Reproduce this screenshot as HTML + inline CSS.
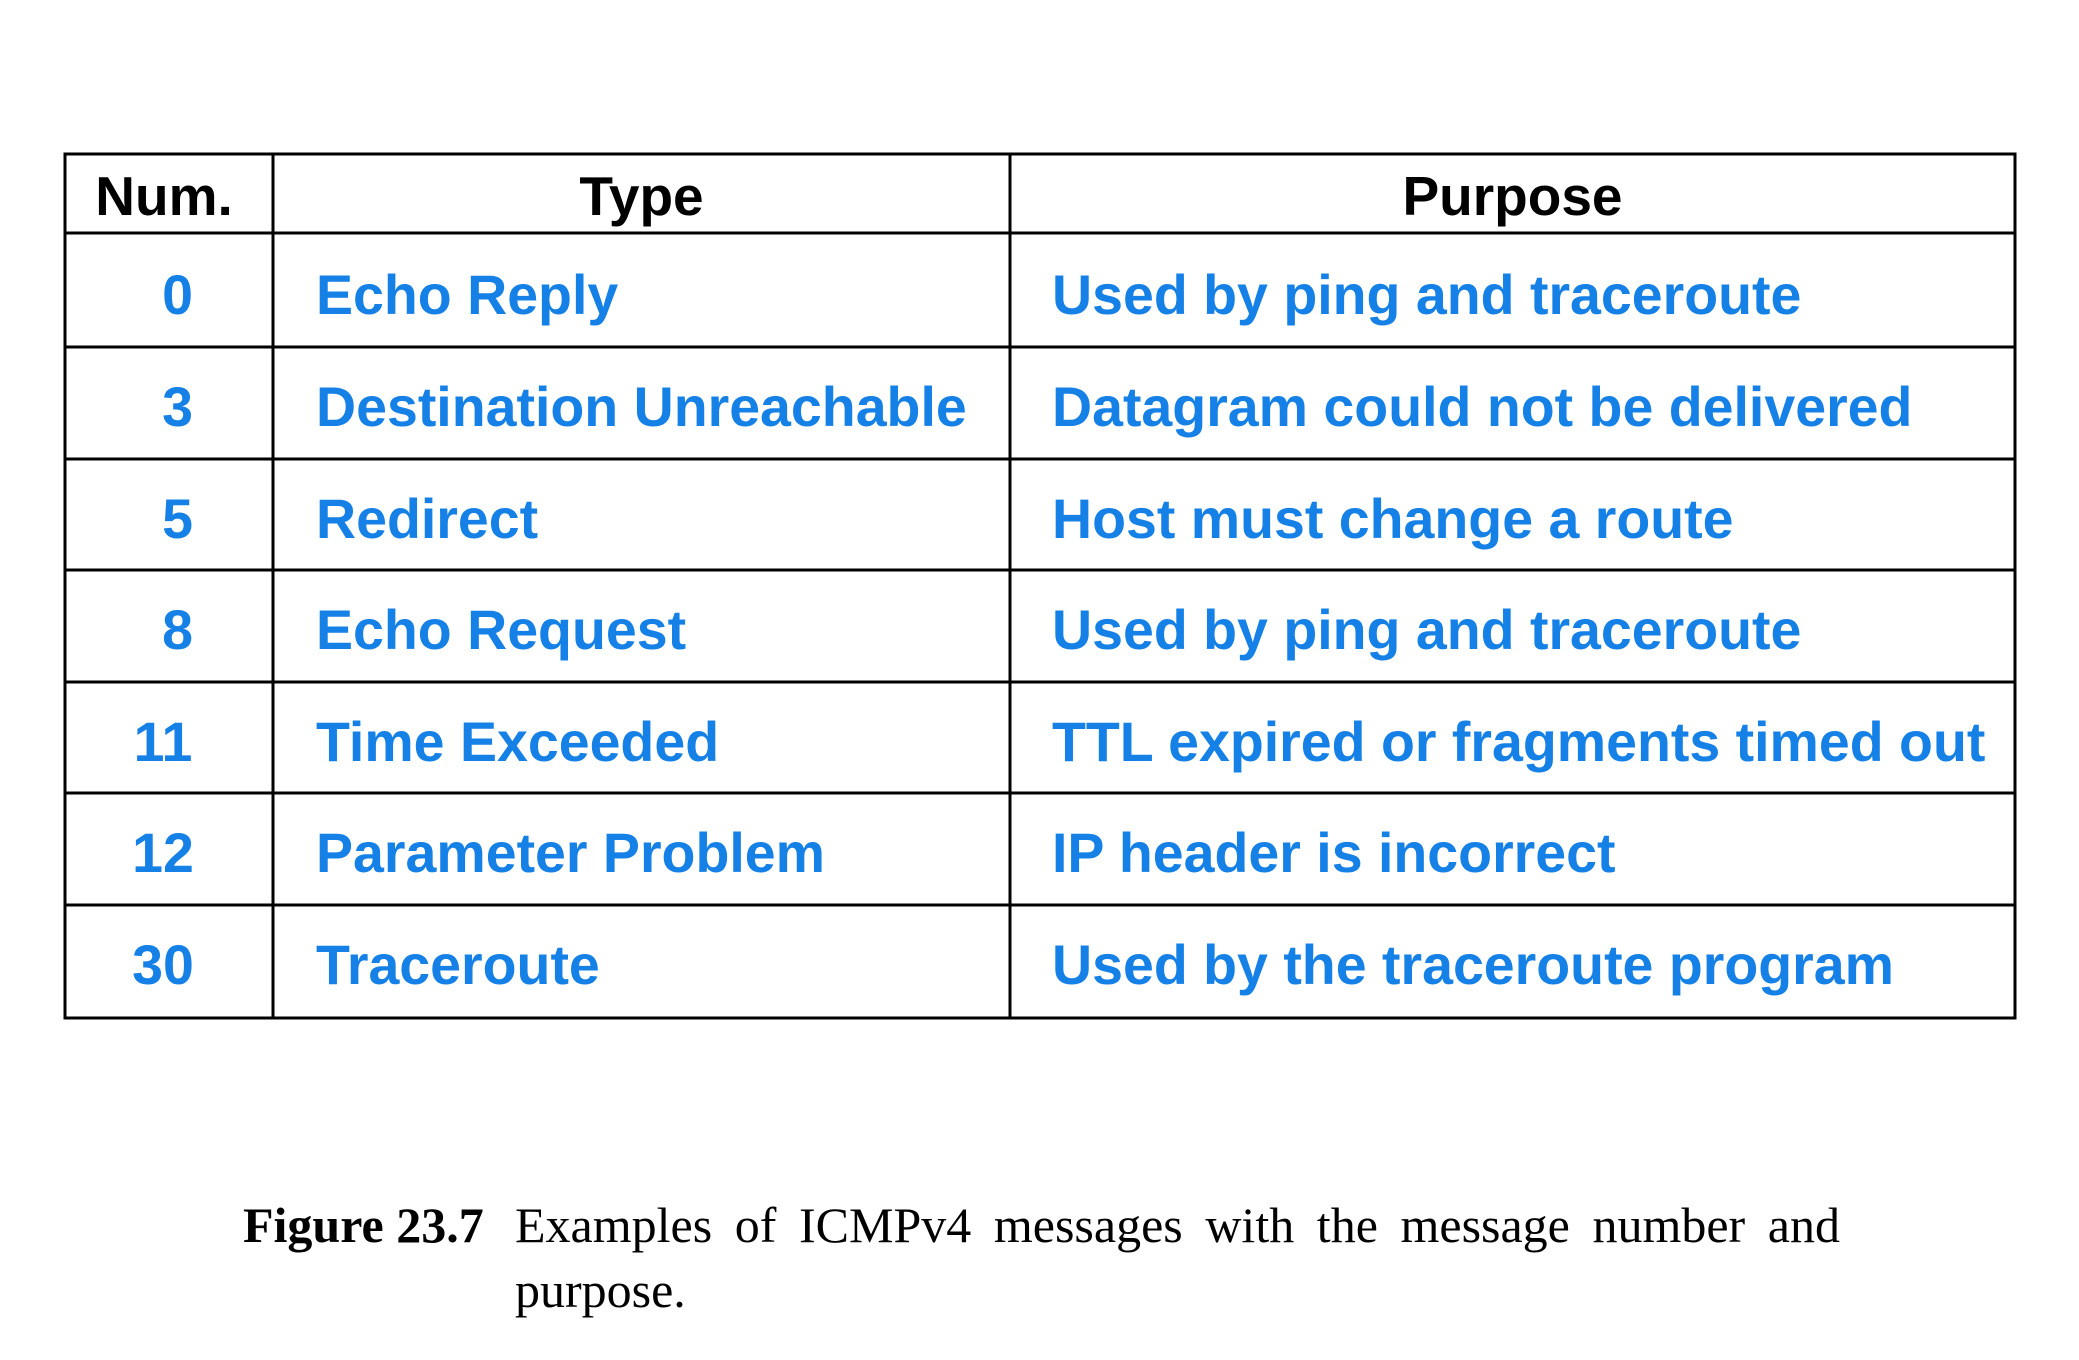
<!DOCTYPE html>
<html><head><meta charset="utf-8"><style>
html,body{margin:0;padding:0;background:#fff;}
body{width:2079px;height:1360px;position:relative;overflow:hidden;font-family:"Liberation Sans",Arial,sans-serif;}
.t{position:absolute;font-weight:bold;font-size:55.5px;line-height:1;white-space:nowrap;color:#1580e6;}
.h{color:#000;font-size:55px;}
.c{text-align:center;}
.cap{position:absolute;font-family:"Liberation Serif","Times New Roman",serif;font-size:50px;line-height:1;white-space:nowrap;}
</style></head><body>
<svg width="2079" height="1360" style="position:absolute;left:0;top:0">
<g stroke="#000" stroke-width="3" fill="none">
<rect x="65" y="154" width="1950" height="864"/>
<line x1="273" y1="154" x2="273" y2="1018"/>
<line x1="1010" y1="154" x2="1010" y2="1018"/>
<line x1="65" y1="233" x2="2015" y2="233"/>
<line x1="65" y1="347" x2="2015" y2="347"/>
<line x1="65" y1="459" x2="2015" y2="459"/>
<line x1="65" y1="570" x2="2015" y2="570"/>
<line x1="65" y1="682" x2="2015" y2="682"/>
<line x1="65" y1="793" x2="2015" y2="793"/>
<line x1="65" y1="905" x2="2015" y2="905"/>
</g></svg>
<div class="t h c" style="left:65px;width:198px;top:169px">Num.</div>
<div class="t h c" style="left:273px;width:737px;top:169px">Type</div>
<div class="t h c" style="left:1010px;width:1005px;top:169px">Purpose</div>

<div class="t c" style="left:65px;width:225px;top:268px">0</div>
<div class="t" style="left:316px;top:268px">Echo Reply</div>
<div class="t" style="left:1052px;top:268px">Used by ping and traceroute</div>

<div class="t c" style="left:65px;width:225px;top:380px">3</div>
<div class="t" style="left:316px;top:380px">Destination Unreachable</div>
<div class="t" style="left:1052px;top:380px">Datagram could not be delivered</div>

<div class="t c" style="left:65px;width:225px;top:492px">5</div>
<div class="t" style="left:316px;top:492px">Redirect</div>
<div class="t" style="left:1052px;top:492px">Host must change a route</div>

<div class="t c" style="left:65px;width:225px;top:603px">8</div>
<div class="t" style="left:316px;top:603px">Echo Request</div>
<div class="t" style="left:1052px;top:603px">Used by ping and traceroute</div>

<div class="t c" style="left:65px;width:196px;top:715px">11</div>
<div class="t" style="left:316px;top:715px">Time Exceeded</div>
<div class="t" style="left:1052px;top:715px">TTL expired or fragments timed out</div>

<div class="t c" style="left:65px;width:196px;top:826px">12</div>
<div class="t" style="left:316px;top:826px">Parameter Problem</div>
<div class="t" style="left:1052px;top:826px">IP header is incorrect</div>

<div class="t c" style="left:65px;width:196px;top:938px">30</div>
<div class="t" style="left:316px;top:938px">Traceroute</div>
<div class="t" style="left:1052px;top:938px">Used by the traceroute program</div>

<div class="cap" style="left:243px;top:1200px"><b>Figure 23.7</b></div>
<div class="cap" style="left:515px;top:1200px;width:1325px;white-space:normal;text-align:justify;text-align-last:justify;">Examples of ICMPv4 messages with the message number and</div>
<div class="cap" style="left:515px;top:1265px">purpose.</div>
</body></html>
